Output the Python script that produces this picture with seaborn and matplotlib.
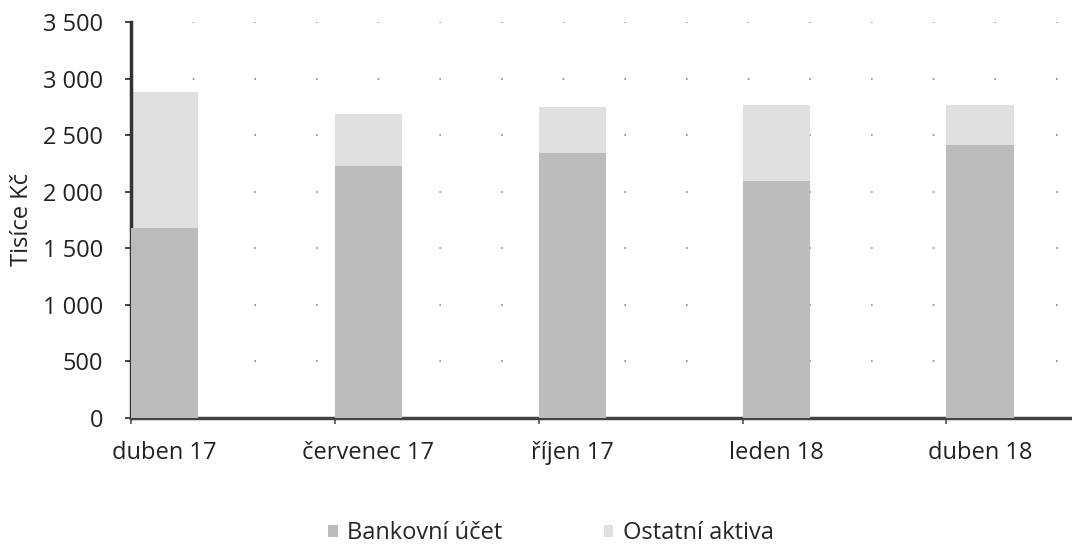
import matplotlib
matplotlib.use("Agg")
import matplotlib.pyplot as plt
import matplotlib.ticker as mticker
from matplotlib.patches import Patch
import numpy as np
import pandas as pd
import seaborn as sns

# data (tisíce Kč)
months = ["duben 17", "červenec 17", "říjen 17", "leden 18", "duben 18"]
bankovni_ucet = [1680, 2230, 2340, 2090, 2410]
ostatni_aktiva = [1200, 460, 410, 680, 355]

COLOR_BANK = "#bcbcbc"
COLOR_OTHER = "#e0e0e0"
FS = 17

sns.set_theme(style="white")
plt.rcParams["font.family"] = ["Open Sans", "DejaVu Sans"]

df = pd.DataFrame({
    "month": months,
    "bank": bankovni_ucet,
    "total": np.array(bankovni_ucet) + np.array(ostatni_aktiva),
})

fig = plt.figure(figsize=(10.72, 5.51), dpi=100)
ax = fig.add_axes([0.122, 0.242, 0.876, 0.718])

# stacked: total first, bank account over it
sns.barplot(data=df, x="month", y="total", color=COLOR_OTHER, width=0.33,
            saturation=1, linewidth=0, ax=ax, zorder=2)
sns.barplot(data=df, x="month", y="bank", color=COLOR_BANK, width=0.33,
            saturation=1, linewidth=0, ax=ax, zorder=3)

ax.set_ylim(0, 3500)
ax.set_xlim(-0.165, 4.44)
ax.yaxis.set_major_locator(mticker.MultipleLocator(500))
ax.yaxis.set_major_formatter(
    mticker.FuncFormatter(lambda v, p: f"{int(v):,}".replace(",", " ")))
ax.yaxis.grid(True, color="#8a8a8a", linestyle=(0, (1, 36)), linewidth=1.2, zorder=0)
ax.set_axisbelow(True)

ax.set_xlabel("")
ax.set_ylabel("Tisíce Kč", fontsize=FS, color="#222222", labelpad=6)
ax.tick_params(axis="y", labelsize=FS, colors="#222222", length=4, width=1.2,
               direction="out", left=True, pad=16)
ax.tick_params(axis="x", labelsize=FS, colors="#222222", length=0, pad=17)

# small tick marks at bar left edges, like the original date axis
ax.set_xticks([i - 0.165 for i in range(len(months))], minor=True)
ax.tick_params(axis="x", which="minor", length=4, width=1.2, color="#555555",
               bottom=True)

for side in ["top", "right"]:
    ax.spines[side].set_visible(False)
ax.spines["left"].set_color("#333333")
ax.spines["left"].set_linewidth(2.5)
ax.spines["bottom"].set_color("#444444")
ax.spines["bottom"].set_linewidth(2.5)

handles = [Patch(facecolor=COLOR_BANK, edgecolor="none", label="Bankovní účet"),
           Patch(facecolor=COLOR_OTHER, edgecolor="none", label="Ostatní aktiva")]
fig.legend(handles=handles, loc="center", bbox_to_anchor=(0.514, 0.032),
           ncol=2, frameon=False, fontsize=FS, handlelength=0.4,
           handleheight=0.4, handletextpad=0.4, columnspacing=4.3, borderpad=0)

fig.savefig("out.png", dpi=100)
